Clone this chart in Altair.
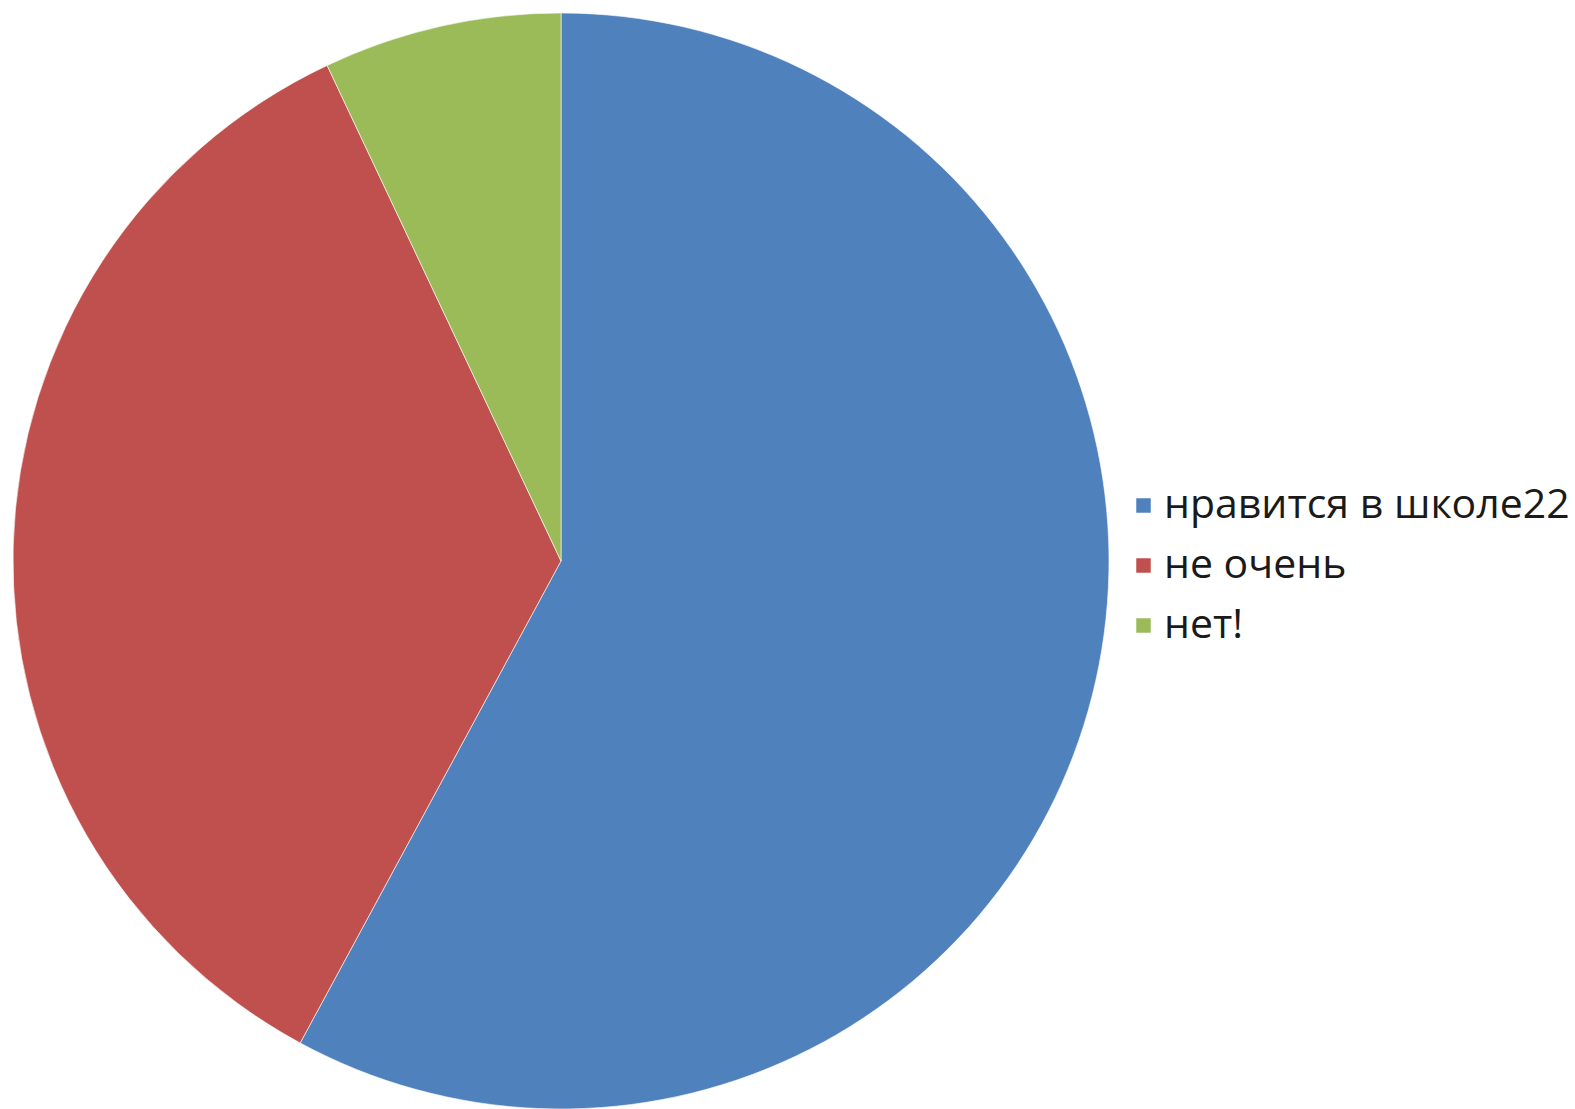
import altair as alt
import pandas as pd

categories = ["нравится в школе22", "не очень", "нет!"]
values = [33, 20, 4]
colors = ["#4F81BD", "#C0504D", "#9BBB59"]

df = pd.DataFrame({"cat": categories, "val": values, "ord": list(range(len(categories)))})

chart = alt.Chart(df).mark_arc(outerRadius=548, stroke="#ffffff", strokeWidth=0.6).encode(
    theta=alt.Theta("val:Q", stack=True),
    order=alt.Order("ord:Q"),
    color=alt.Color(
        "cat:N",
        sort=categories,
        scale=alt.Scale(domain=categories, range=colors),
        legend=alt.Legend(
            title=None,
            orient="none",
            legendX=1123,
            legendY=485,
            symbolType="square",
            symbolSize=210,
            symbolStrokeWidth=0,
            labelFontSize=41,
            labelFont="Open Sans",
            labelColor="#1a1a1a",
            labelOffset=0,
            rowPadding=18,
            labelLimit=700,
        ),
    ),
    x=alt.value(561),
    y=alt.value(561),
).properties(
    width=1575,
    height=1109,
    autosize=alt.AutoSizeParams(type="none"),
    padding=0,
).configure_view(stroke=None)

chart.save("out.html", embed_options={"renderer": "svg", "actions": False})
